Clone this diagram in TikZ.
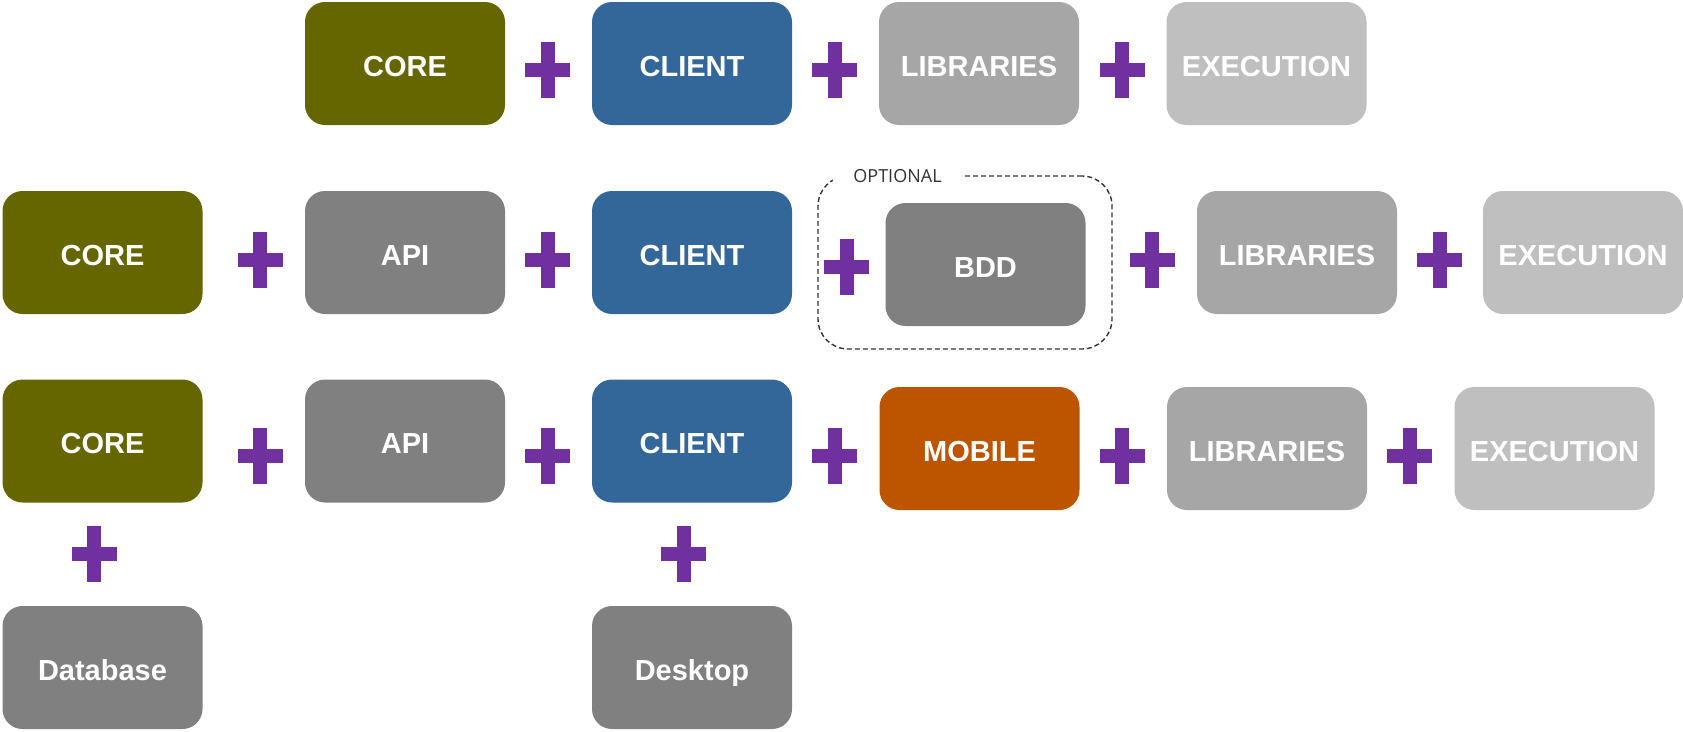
\documentclass[tikz,border=0pt]{standalone}
\usepackage{fontspec}
\setmainfont{Liberation Sans}
\newfontfamily\labelfont{Open Sans}

\definecolor{coreolive}{HTML}{666600}
\definecolor{clientblue}{HTML}{336699}
\definecolor{midgray}{HTML}{808080}
\definecolor{libgray}{HTML}{A6A6A6}
\definecolor{execgray}{HTML}{BFBFBF}
\definecolor{mobileorange}{HTML}{BD5500}
\definecolor{plusviolet}{HTML}{7030A0}
\definecolor{dashgray}{HTML}{333333}

\begin{document}
\begin{tikzpicture}[x=1pt,y=-1pt,
  module/.style={rectangle, rounded corners=20pt, minimum width=200pt,
    minimum height=123pt, inner sep=0pt, text=white,
    font=\fontsize{29}{34}\selectfont\bfseries, text height=25pt, text depth=0pt},
  core/.style={module, fill=coreolive},
  client/.style={module, fill=clientblue},
  plain/.style={module, fill=midgray},
  libs/.style={module, fill=libgray},
  exec/.style={module, fill=execgray},
  mobile/.style={module, fill=mobileorange},
  optbox/.style={rectangle, rounded corners=30pt, draw=dashgray, line width=1.4pt,
    dash pattern=on 5pt off 3pt, minimum width=294pt, minimum height=173pt},
  optlabel/.style={fill=white, inner xsep=20pt, inner ysep=2pt, text=dashgray,
    font=\labelfont\fontsize{18}{20}\selectfont, text height=13pt, text depth=0pt},
  plussign/.pic={
    \fill[plusviolet] (-7,-28) rectangle (7,28);
    \fill[plusviolet] (-22.5,-7) rectangle (22.5,7);
  }
]
\useasboundingbox (0,0) rectangle (1683,731);

% first row
\node[core]   (r1core)   at (405,63.5)  {CORE};
\node[client] (r1client) at (692,63.5)  {CLIENT};
\node[libs]   (r1libs)   at (979,63.5)  {LIBRARIES};
\node[exec]   (r1exec)   at (1266.5,63.5) {EXECUTION};
\pic at (547.5,70) {plussign};
\pic at (834.5,70) {plussign};
\pic at (1122,70) {plussign};

% second row, with the optional BDD group
\node[optbox] (optgroup) at (965,262.5) {};
\node[optlabel] (optlbl) at (897.5,176) {OPTIONAL};
\node[core]   (r2core)   at (102.5,252.5) {CORE};
\node[plain]  (r2api)    at (405,252.5)   {API};
\node[client] (r2client) at (692,252.5)   {CLIENT};
\node[plain]  (r2bdd)    at (985.5,264.5) {BDD};
\node[libs]   (r2libs)   at (1297,252.5)  {LIBRARIES};
\node[exec]   (r2exec)   at (1583,252.5)  {EXECUTION};
\pic at (260,259.5) {plussign};
\pic at (547.5,259.5) {plussign};
\pic at (846.5,267) {plussign};
\pic at (1152,259.5) {plussign};
\pic at (1439.5,259.5) {plussign};

% third row
\node[core]   (r3core)   at (102.5,441) {CORE};
\node[plain]  (r3api)    at (405,441)   {API};
\node[client] (r3client) at (692,441)   {CLIENT};
\node[mobile] (r3mobile) at (979.5,448.5) {MOBILE};
\node[libs]   (r3libs)   at (1267,448.5)  {LIBRARIES};
\node[exec]   (r3exec)   at (1554.5,448.5) {EXECUTION};
\pic at (260,455.5) {plussign};
\pic at (547.5,455.5) {plussign};
\pic at (834.5,455.5) {plussign};
\pic at (1122,455.5) {plussign};
\pic at (1409.5,455.5) {plussign};

% extensions below the third row
\pic at (94,554) {plussign};
\pic at (683.5,554) {plussign};
\node[plain] (database) at (102.5,667.5) {Database};
\node[plain] (desktop)  at (692,667.5)   {Desktop};
\end{tikzpicture}
\end{document}
